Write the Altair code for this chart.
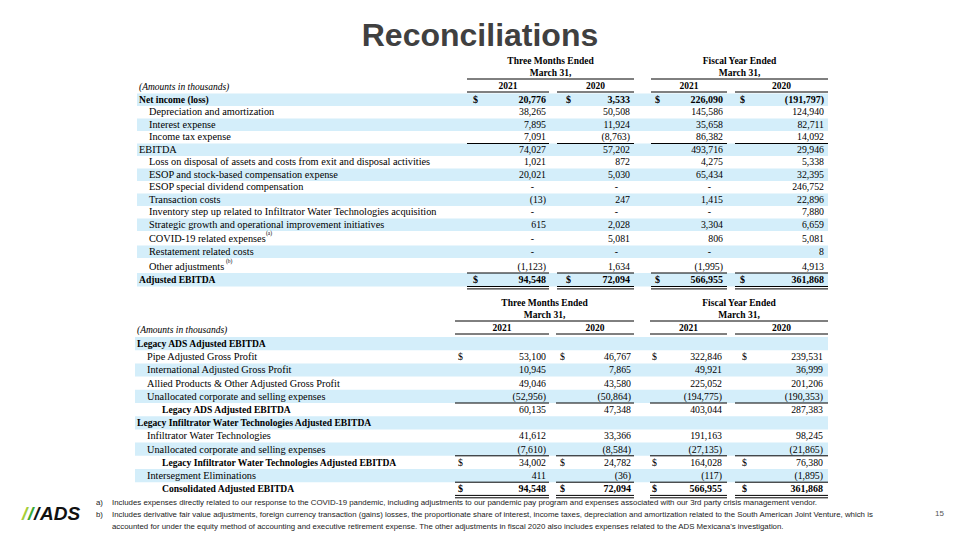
import altair as alt
import pandas as pd

# ---------------- data ----------------
title = "Reconciliations"
col_groups = ["Three Months Ended", "Fiscal Year Ended"]
col_group_sub = "March 31,"
years = ["2021", "2020", "2021", "2020"]
amounts_note = "(Amounts in thousands)"

t1_labels = [
    "Net income (loss)", "Depreciation and amortization", "Interest expense",
    "Income tax expense", "EBITDA",
    "Loss on disposal of assets and costs from exit and disposal activities",
    "ESOP and stock-based compensation expense", "ESOP special dividend compensation",
    "Transaction costs",
    "Inventory step up related to Infiltrator Water Technologies acquisition",
    "Strategic growth and operational improvement initiatives",
    "COVID-19 related expenses", "Restatement related costs", "Other adjustments",
    "Adjusted EBITDA",
]
t1_q2021 = [20776, 38265, 7895, 7091, 74027, 1021, 20021, None, -13, None, 615, None, None, -1123, 94548]
t1_q2020 = [3533, 50508, 11924, -8763, 57202, 872, 5030, None, 247, None, 2028, 5081, None, 1634, 72094]
t1_y2021 = [226090, 145586, 35658, 86382, 493716, 4275, 65434, None, 1415, None, 3304, 806, None, -1995, 566955]
t1_y2020 = [-191797, 124940, 82711, 14092, 29946, 5338, 32395, 246752, 22896, 7880, 6659, 5081, 8, 4913, 361868]
t1_sup = {11: "(a)", 13: "(b)"}

t2_labels = [
    "Legacy ADS Adjusted EBITDA", "Pipe Adjusted Gross Profit",
    "International Adjusted Gross Profit", "Allied Products & Other Adjusted Gross Profit",
    "Unallocated corporate and selling expenses", "Legacy ADS Adjusted EBITDA",
    "Legacy Infiltrator Water Technologies Adjusted EBITDA", "Infiltrator Water Technologies",
    "Unallocated corporate and selling expenses",
    "Legacy Infiltrator Water Technologies Adjusted EBITDA", "Intersegment Eliminations",
    "Consolidated Adjusted EBITDA",
]
t2_q2021 = [None, 53100, 10945, 49046, -52956, 60135, None, 41612, -7610, 34002, 411, 94548]
t2_q2020 = [None, 46767, 7865, 43580, -50864, 47348, None, 33366, -8584, 24782, -36, 72094]
t2_y2021 = [None, 322846, 49921, 225052, -194775, 403044, None, 191163, -27135, 164028, -117, 566955]
t2_y2020 = [None, 239531, 36999, 201206, -190353, 287383, None, 98245, -21865, 76380, -1895, 361868]

footnotes = [
    ("a)", "Includes expenses directly related to our response to the COVID-19 pandemic, including adjustments to our pandemic pay program and expenses associated with our 3rd party crisis management vendor."),
    ("b)", "Includes derivative fair value adjustments, foreign currency transaction (gains) losses, the proportionate share of interest, income taxes, depreciation and amortization related to the South American Joint Venture, which is"),
    ("", "accounted for under the equity method of accounting and executive retirement expense. The other adjustments in fiscal 2020 also includes expenses related to the ADS Mexicana's investigation."),
]
page_number = "15"
logo_text = "ADS"

# ---------------- styles / layout ----------------
t1_label_style = ["b", "i1", "i1", "i1", "n", "i1", "i1", "i1", "i1", "i1", "i1", "i1", "i1", "i1", "b"]
t1_bold_vals = {0, 14}
t1_dollar = {0, 14}
t1_row_h = [12.5] * 11 + [14.5, 12.5, 15, 13.5]
t1_top = 93.5
t1_lines = {3: "single", 13: "single", 14: "double"}
t1_sup_x = {11: 266, 13: 226}
t1_geom = dict(
    segs=[(467, 549), (557, 634), (651, 727), (735, 828)],
    dollar=[473, 566, 655, 740],
    right=[546, 630, 723, 824],
    lx=(139, 149, 162), band=(137, 828), head_y=61, amounts_y=86.5,
)

t2_label_style = ["b", "i1", "i1", "i1", "i1", "b2", "b", "i1", "i1", "b2", "i1", "b2"]
t2_bold_vals = {11}
t2_dollar = {1, 9, 11}
t2_row_h = [13.2] * 12
t2_top = 337.0
t2_lines = {4: "single", 8: "single", 10: "single", 11: "double"}
t2_geom = dict(
    segs=[(455, 549), (556, 634), (650, 727), (735, 828)],
    dollar=[458, 560, 652, 742],
    right=[546, 631, 722, 823],
    lx=(137, 147, 162), band=(135, 828), head_y=303, amounts_y=330,
)

SERIF = "Liberation Serif"
SANS = "Liberation Sans"
BAND = "#d4eefa"


def fmt(v):
    if v is None:
        return "-"
    if v < 0:
        return f"({-v:,})"
    return f"{v:,}"


texts, rules, rects = [], [], []


def T(x, y, s, style):
    texts.append({"x": x, "y": y, "t": s, "s": style})


def R(x1, x2, y):
    rules.append({"x": x1, "x2": x2, "y": y})


def header(g):
    segs = g["segs"]
    y_top = g["head_y"]
    c1 = (segs[0][0] + segs[1][1]) / 2
    c2 = (segs[2][0] + segs[3][1]) / 2
    T(c1, y_top, col_groups[0], "hdr")
    T(c1, y_top + 11.5, col_group_sub, "hdr")
    T(c2, y_top, col_groups[1], "hdr")
    T(c2, y_top + 11.5, col_group_sub, "hdr")
    R(segs[0][0], segs[1][1], y_top + 18)
    R(segs[2][0], segs[3][1], y_top + 18)
    for i, yr in enumerate(years):
        T((segs[i][0] + segs[i][1]) / 2, y_top + 25, yr, "hdr")
        R(segs[i][0], segs[i][1], y_top + 31)


def table(labels, cols, styles, bold_vals, dollars, heights, top, lines, g, blank_none, sup=None, sup_x=None):
    header(g)
    lx = g["lx"]
    segs = g["segs"]
    T(lx[0], g["amounts_y"], amounts_note, "ital")
    y = top
    for r, lab in enumerate(labels):
        h = heights[r]
        yc = y + h - 6.3
        if r % 2 == 0:
            rects.append({"x": g["band"][0], "x2": g["band"][1], "y": y, "y2": y + h})
        st = styles[r]
        if st == "b":
            T(lx[0], yc, lab, "lab_b")
        elif st == "b2":
            T(lx[2], yc, lab, "lab_b")
        elif st == "n":
            T(lx[0], yc, lab, "lab")
        else:
            T(lx[1], yc, lab, "lab")
        for c, colv in enumerate(cols):
            v = colv[r]
            if v is None and blank_none:
                continue
            if v is None:
                T(g["right"][c] - 12, yc, "-", "val")
            else:
                T(g["right"][c], yc, fmt(v), "val_b" if r in bold_vals else "val")
            if r in dollars:
                T(g["dollar"][c], yc, "$", "dol_b" if r in bold_vals else "dol")
        if sup and r in sup:
            T(sup_x[r], yc - 6, sup[r], "sup")
        y += h
        if r in lines:
            for c in range(4):
                R(segs[c][0], segs[c][1], y)
                if lines[r] == "double":
                    R(segs[c][0], segs[c][1], y + 2.4)


table(t1_labels, [t1_q2021, t1_q2020, t1_y2021, t1_y2020], t1_label_style, t1_bold_vals, t1_dollar,
      t1_row_h, t1_top, t1_lines, t1_geom, False, t1_sup, t1_sup_x)
table(t2_labels, [t2_q2021, t2_q2020, t2_y2021, t2_y2020], t2_label_style, t2_bold_vals, t2_dollar,
      t2_row_h, t2_top, t2_lines, t2_geom, True)

T(480, 36, title, "title")
for i, (k, s) in enumerate(footnotes):
    yy = 503 + 12 * i
    if k:
        T(96, yy, k, "foot")
    T(112, yy, s, "foot")
T(944, 514, page_number, "page")
T(22, 514, "/", "logo1")
T(28, 514, "/", "logo2")
T(34, 514, "/", "logo3")
T(40, 514, logo_text, "logo3")

tdf = pd.DataFrame(texts)
rdf = pd.DataFrame(rules)
bdf = pd.DataFrame(rects)

xs = alt.Scale(domain=[8, 952], nice=False, zero=False)
ys = alt.Scale(domain=[8, 532], nice=False, zero=False, reverse=True)
X = alt.X("x:Q", scale=xs, axis=None)
Y = alt.Y("y:Q", scale=ys, axis=None)

bands = alt.Chart(bdf).mark_rect(color=BAND).encode(x=X, x2="x2:Q", y=Y, y2="y2:Q")
lines_ch = alt.Chart(rdf).mark_rule(color="#000000", strokeWidth=1).encode(x=X, x2="x2:Q", y=Y)

styles = {
    "hdr": dict(font=SERIF, fontSize=9.5, fontWeight="bold", align="center"),
    "ital": dict(font=SERIF, fontSize=9.5, fontStyle="italic", align="left"),
    "lab": dict(font=SERIF, fontSize=10.3, align="left"),
    "lab_b": dict(font=SERIF, fontSize=9.6, fontWeight="bold", align="left"),
    "val": dict(font=SERIF, fontSize=9.8, align="right"),
    "val_b": dict(font=SERIF, fontSize=10, fontWeight="bold", align="right"),
    "dol": dict(font=SERIF, fontSize=9.8, align="left"),
    "dol_b": dict(font=SERIF, fontSize=10, fontWeight="bold", align="left"),
    "sup": dict(font=SERIF, fontSize=5.5, align="left"),
    "title": dict(font=SANS, fontSize=32, fontWeight="bold", align="center", color="#404040"),
    "foot": dict(font=SANS, fontSize=7.85, align="left", color="#222222"),
    "page": dict(font=SANS, fontSize=8, align="right", color="#555555"),
    "logo1": dict(font=SANS, fontSize=19, fontWeight="bold", fontStyle="italic", align="left", color="#a6ce39"),
    "logo2": dict(font=SANS, fontSize=19, fontWeight="bold", fontStyle="italic", align="left", color="#3aa935"),
    "logo3": dict(font=SANS, fontSize=19, fontWeight="bold", fontStyle="italic", align="left", color="#111111"),
}

layers = [bands, lines_ch]
for key, kw in styles.items():
    kw = dict(kw)
    kw.setdefault("color", "#000000")
    layers.append(
        alt.Chart(tdf).transform_filter(alt.datum.s == key)
        .mark_text(baseline="middle", **kw)
        .encode(x=X, y=Y, text="t:N")
    )

chart = alt.layer(*layers).properties(
    width=944, height=524, padding=0, autosize=alt.AutoSizeParams(type="none")
).configure_view(stroke=None)

chart.save("out.html", embed_options={"renderer": "svg", "actions": False})
